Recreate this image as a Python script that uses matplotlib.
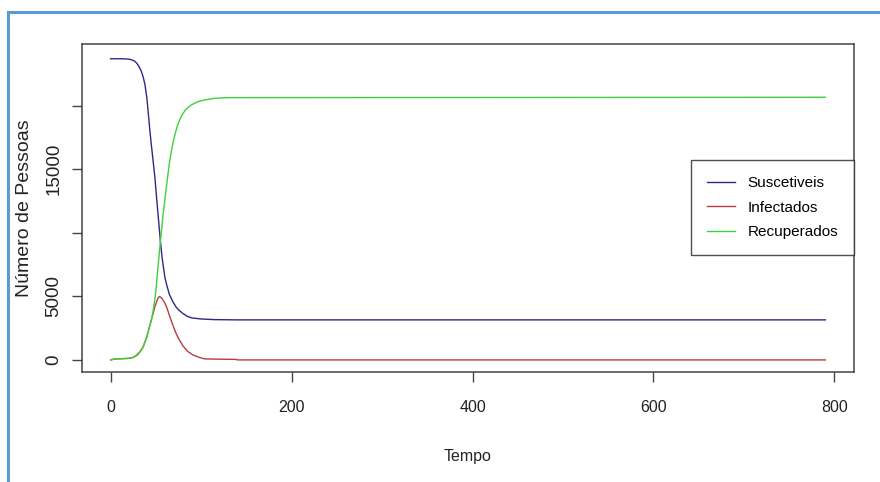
import matplotlib
matplotlib.use('Agg')
import matplotlib.pyplot as plt
from matplotlib.lines import Line2D

# Values
tempo_s = [0, 10, 19, 22, 25, 27, 29, 31, 34, 36, 38, 40, 41.5, 43, 45, 47, 49, 51, 52.5, 55,
           57, 60, 62, 65, 69, 72, 75, 80, 85, 90, 100, 115, 140, 790]
suscetiveis = [23690, 23690, 23670, 23630, 23560, 23480, 23330, 23120, 22700, 22250, 21650,
               20650, 19550, 18350, 16930, 15650, 14330, 12600, 11420, 9350, 8000, 6500, 5900,
               5150, 4550, 4200, 3940, 3650, 3420, 3300, 3220, 3170, 3150, 3150]

tempo_i = [0, 5, 10, 20, 25, 30, 33, 36, 40, 43, 46, 49, 52, 54, 56, 59, 62, 65, 69, 72, 75,
           80, 85, 91, 98, 104, 120, 139, 140, 790]
infectados = [0, 80, 90, 120, 200, 450, 700, 1050, 1800, 2600, 3400, 4200, 4800, 4990, 4900,
              4600, 4150, 3500, 2700, 2150, 1700, 1100, 680, 390, 200, 80, 60, 40, 0, 0]

tempo_r = [0, 5, 10, 20, 25, 30, 33, 36, 40, 43, 46, 48, 50, 52, 55, 58, 62, 65, 68, 71, 74,
           78, 83, 89, 96, 104, 115, 130, 790]
recuperados = [0, 80, 90, 130, 180, 400, 680, 1000, 1800, 2600, 3400, 4300, 5400, 7000, 9300,
               11420, 13800, 15500, 16750, 17700, 18450, 19150, 19700, 20050, 20300, 20450,
               20580, 20630, 20660]

x_ticks = [0, 200, 400, 600, 800]
y_ticks = [0, 5000, 10000, 15000, 20000]
y_tick_labels = ['0', '5000', '', '15000', '']

plt.rcParams['font.family'] = ['Liberation Sans', 'DejaVu Sans']

fig = plt.figure(figsize=(8.8, 4.82), dpi=100)
ax = fig.add_axes([82 / 880, 110 / 482, 772 / 880, 328 / 482])

ax.plot(tempo_s, suscetiveis, color='#2b2b85', lw=1.0, label='Suscetiveis')
ax.plot(tempo_i, infectados, color='#b83c3c', lw=1.0, label='Infectados')
ax.plot(tempo_r, recuperados, color='#3cd23c', lw=1.0, label='Recuperados')

ax.set_xlim(-31.6, 821.6)
ax.set_ylim(-950, 24850)
ax.set_xticks(x_ticks)
ax.set_xticklabels([str(v) for v in x_ticks], fontsize=11.5, color='#222222')
ax.set_yticks(y_ticks)
ax.set_yticklabels(y_tick_labels, fontsize=13.5, rotation=90, va='center', color='#222222')
ax.tick_params(direction='out', length=7, width=1, color='#444444', pad=7)
ax.tick_params(axis='x', pad=13)
for s in ax.spines.values():
    s.set_color('#444444')
    s.set_linewidth(1.1)

ax.set_xlabel('Tempo', fontsize=11.5, color='#222222', labelpad=25)
ax.set_ylabel('Número de Pessoas', fontsize=14, color='#222222', labelpad=9)

leg = ax.legend(loc='upper right', bbox_to_anchor=(1.0, 0.646), borderaxespad=0,
                fancybox=False, frameon=True, fontsize=11, handlelength=1.85,
                labelspacing=0.68, borderpad=1.05, handletextpad=0.8)
leg.get_frame().set_edgecolor('#222222')
leg.get_frame().set_linewidth(1.0)

# blue outer border (left and top only)
fig.add_artist(Line2D([8 / 880, 8 / 880], [0, 1 - 12 / 482], transform=fig.transFigure,
                      color='#5b9bd5', lw=2.2))
fig.add_artist(Line2D([8 / 880, 1], [1 - 12 / 482, 1 - 12 / 482], transform=fig.transFigure,
                      color='#5b9bd5', lw=2.2))

plt.savefig('out.png', dpi=100)
